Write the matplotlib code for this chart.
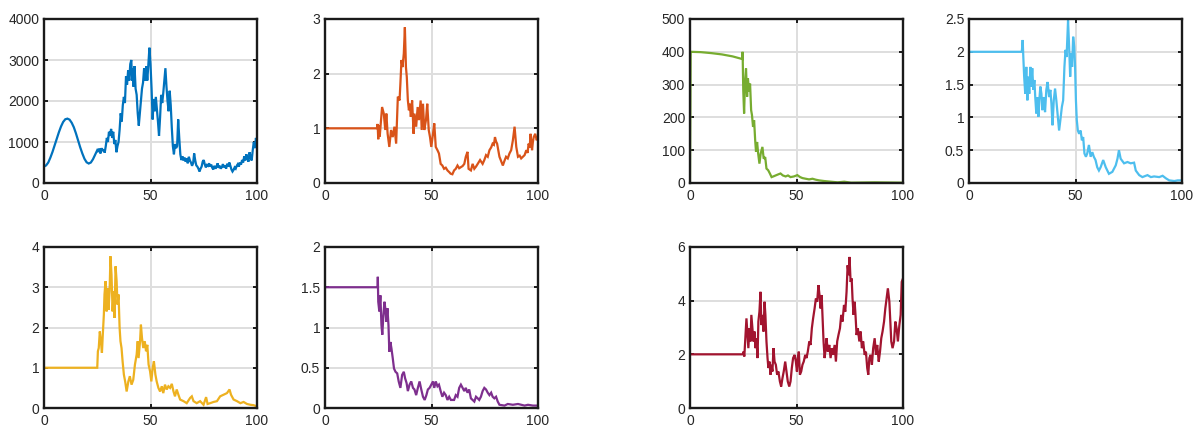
import matplotlib
matplotlib.use("Agg")
import matplotlib.pyplot as plt

# ---- series data -------------------------------------------------------
blue_x = [0, 1, 2, 3, 4, 5, 6, 7, 8, 9, 10, 11, 12, 13, 14, 15, 16, 17, 18, 19, 20, 21, 22, 23, 24, 25,
          25.5, 26, 26.5, 27, 27.5, 28, 28.5, 29, 29.5, 30, 30.5, 31, 31.5, 32, 32.5, 33, 33.5, 34, 34.5, 35,
          35.5, 36, 36.5, 37, 37.5, 38, 38.5, 39, 39.5, 40, 40.5, 41, 41.3, 41.7, 42, 42.5, 43, 43.5, 44, 44.5,
          45, 45.5, 46, 46.5, 47, 47.5, 48, 48.5, 49, 49.5, 50, 50.5, 51, 51.5, 52, 52.5, 53, 53.5, 54, 54.5,
          55, 55.5, 56, 56.5, 57, 57.5, 58, 58.5, 59, 59.5, 60, 60.5, 61, 61.5, 62, 62.5, 63, 63.5, 64, 64.5,
          65, 65.5, 66, 66.5, 67, 67.5, 68, 68.5, 69, 69.5, 70, 70.5, 71, 71.5, 72, 72.5, 73, 73.5, 74, 74.5,
          75, 75.5, 76, 76.5, 77, 77.5, 78, 78.5, 79, 79.5, 80, 80.5, 81, 81.5, 82, 82.5, 83, 83.5, 84, 84.5,
          85, 85.5, 86, 86.5, 87, 87.5, 88, 88.5, 89, 89.5, 90, 90.5, 91, 91.5, 92, 92.5, 93, 93.5, 94, 94.5,
          95, 95.5, 96, 96.5, 97, 97.5, 98, 98.5, 99, 99.5, 100]
blue_y = [400, 430, 500, 620, 760, 920, 1080, 1240, 1380, 1490, 1555, 1570, 1545, 1470, 1360, 1210, 1040, 870,
          720, 590, 505, 475, 500, 580, 690, 800,
          760, 840, 720, 850, 780, 820, 740, 900, 1100, 1000, 1250, 1150, 1320, 1100, 1250, 950, 1050, 750, 900, 1000,
          1300, 1700, 1500, 1900, 2100, 1950, 2600, 2400, 2750, 2500, 2900, 3000, 2500, 2800, 2350, 2850, 2300, 2150,
          1700, 1400,
          1700, 2000, 2300, 2450, 2800, 2500, 2850, 2500, 2900, 3300, 2900, 2300, 1550, 2050, 1750, 2100, 1800, 1500,
          1150, 1600,
          2150, 1950, 2200, 2500, 2800, 2350, 2000, 1750, 2250, 1900, 1350, 900, 700, 950, 850, 900, 1550, 1100, 700,
          560,
          650, 550, 620, 520, 600, 480, 640, 550, 500, 420, 480, 720, 550, 430, 400, 350, 280, 350, 400, 520,
          560, 450, 380, 440, 420, 480, 400, 450, 370, 330, 420, 350, 400, 480, 370, 420, 350, 390, 460, 380,
          420, 350, 470, 400, 500, 420, 330, 280, 320, 380, 350, 420, 460, 400, 500, 450, 560, 500, 650, 550,
          700, 600, 520, 750, 620, 550, 800, 1000, 850, 1100, 950]

orange_x = [0, 24.4, 24.7, 25.0, 25.3, 25.7, 26.2, 26.8, 27.6, 28.3, 28.8, 29.4, 30.2, 31.0, 31.8, 32.6, 33.4,
            34.2, 35.0, 35.4, 35.9, 36.4, 37.0, 37.5, 38.0, 38.4, 38.9, 39.4, 39.8, 40.3, 40.9, 41.6, 42.0, 42.8,
            43.5, 44.1, 44.9, 45.4, 46.0, 46.6, 47.4, 48.0, 48.7, 49.3, 49.9, 50.7, 51.3, 52.0, 52.8, 53.5, 54.3,
            55.1, 55.9, 56.7, 57.5, 58.3, 59.0, 59.8, 60.6, 61.4, 62.2, 63.0, 63.8, 64.6, 65.4, 66.1, 66.9, 67.4,
            68.5, 69.3, 70.1, 70.9, 71.7, 72.8, 74.0, 74.8, 75.6, 76.4, 77.2, 78.0, 78.7, 79.3, 79.8, 80.3, 80.8,
            81.9, 82.7, 83.5, 84.2, 85.0, 85.8, 86.6, 87.4, 88.2, 89.0, 89.8, 90.6, 91.4, 92.1, 92.9, 93.7, 94.5,
            95.1, 95.6, 96.1, 96.5, 97.2, 97.6, 98.0, 98.7, 99.4, 100]
orange_y = [1.0, 1.0, 1.08, 0.8, 1.05, 0.85, 1.1, 1.39, 1.27, 0.97, 1.27, 0.9, 0.66, 0.97, 0.84, 1.03, 0.72,
            1.58, 1.51, 1.82, 2.25, 2.12, 2.37, 2.85, 2.12, 1.94, 1.51, 1.33, 1.45, 1.21, 1.51, 0.9, 1.27, 1.03,
            1.39, 1.15, 1.51, 0.97, 1.45, 0.97, 1.15, 1.45, 0.97, 0.84, 0.66, 0.9, 1.09, 0.66, 0.6, 0.54, 0.35,
            0.32, 0.26, 0.28, 0.23, 0.2, 0.17, 0.16, 0.23, 0.26, 0.32, 0.27, 0.29, 0.31, 0.35, 0.48, 0.57, 0.26,
            0.23, 0.35, 0.26, 0.3, 0.35, 0.42, 0.35, 0.42, 0.51, 0.48, 0.6, 0.65, 0.72, 0.7, 0.84, 0.76, 0.72,
            0.48, 0.4, 0.32, 0.4, 0.48, 0.45, 0.54, 0.6, 0.78, 1.03, 0.66, 0.48, 0.5, 0.45, 0.48, 0.51, 0.6,
            0.55, 0.72, 0.65, 0.9, 0.6, 0.75, 0.84, 0.9, 0.78, 0.84]

yellow_x = [0, 25.0, 25.3, 25.7, 26.2, 26.7, 27.2, 27.6, 28.1, 28.4, 28.9, 29.4, 29.8, 30.3, 30.8, 31.2, 31.7,
            32.2, 32.7, 33.1, 33.6, 34.1, 34.5, 35.0, 35.5, 35.9, 36.4, 36.9, 37.5, 38.1, 38.8, 39.6, 40.3, 41.1,
            41.9, 42.7, 43.5, 44.0, 44.4, 45.1, 45.5, 46.0, 46.6, 47.3, 47.9, 48.5, 49.1, 49.8, 50.4, 51.0, 51.6,
            52.3, 52.9, 53.7, 54.5, 55.3, 56.0, 56.8, 57.6, 58.4, 59.2, 60.0, 60.8, 61.5, 62.3, 63.1, 63.9, 65.5,
            67.0, 68.6, 69.4, 70.2, 71.7, 73.3, 74.9, 76.1, 76.8, 78.0, 79.6, 81.2, 82.7, 84.3, 85.9, 87.1, 87.8,
            89.0, 90.6, 92.2, 93.7, 95.3, 96.9, 98.4, 100]
yellow_y = [1.0, 1.0, 1.41, 1.49, 1.9, 1.66, 1.37, 1.82, 2.32, 2.82, 3.15, 2.4, 2.98, 2.44, 2.9, 3.77, 3.31,
            2.4, 2.9, 2.24, 3.52, 3.15, 2.57, 2.82, 1.99, 1.66, 1.49, 1.16, 0.83, 0.66, 0.41, 0.66, 0.79, 0.58,
            0.7, 1.08, 1.33, 1.66, 1.24, 1.66, 2.07, 1.74, 1.49, 1.66, 1.41, 1.57, 1.08, 0.91, 0.66, 0.99, 1.16,
            0.83, 0.66, 0.5, 0.41, 0.54, 0.37, 0.58, 0.46, 0.54, 0.5, 0.6, 0.41, 0.29, 0.46, 0.33, 0.21, 0.17,
            0.12, 0.25, 0.29, 0.17, 0.12, 0.17, 0.08, 0.27, 0.1, 0.12, 0.15, 0.17, 0.29, 0.33, 0.37, 0.46, 0.33,
            0.21, 0.17, 0.12, 0.15, 0.1, 0.08, 0.07, 0.04]

purple_x = [0, 24.7, 24.8, 25.0, 25.5, 26.0, 26.5, 26.9, 27.4, 27.9, 28.3, 28.8, 29.3, 29.8, 30.2, 30.7, 31.2,
            31.8, 32.4, 33.1, 33.9, 34.6, 35.4, 36.2, 37.0, 37.6, 38.3, 38.9, 39.7, 40.5, 41.3, 42.0, 42.8, 43.6,
            44.4, 45.2, 46.0, 46.8, 47.6, 48.3, 49.1, 49.9, 50.7, 51.3, 52.0, 52.8, 53.5, 54.3, 55.1, 55.9, 56.7,
            57.5, 58.3, 59.1, 60.6, 61.4, 62.2, 63.0, 63.8, 64.6, 65.4, 66.1, 66.9, 67.7, 68.5, 69.3, 70.1, 70.9,
            71.7, 72.4, 73.2, 74.0, 74.8, 75.6, 76.4, 77.2, 78.0, 78.7, 79.5, 80.3, 81.1, 81.9, 84.3, 85.8, 88.2,
            90.6, 93.7, 95.3, 97.6, 100]
purple_y = [1.5, 1.5, 1.63, 1.32, 1.2, 1.4, 1.03, 0.91, 1.15, 1.32, 1.24, 1.07, 1.24, 1.03, 0.7, 0.82, 0.74,
            0.62, 0.49, 0.45, 0.43, 0.33, 0.25, 0.41, 0.45, 0.37, 0.31, 0.21, 0.29, 0.33, 0.25, 0.23, 0.16, 0.25,
            0.33, 0.23, 0.14, 0.1, 0.16, 0.23, 0.25, 0.29, 0.33, 0.25, 0.33, 0.27, 0.29, 0.21, 0.14, 0.19, 0.16,
            0.1, 0.14, 0.1, 0.1, 0.16, 0.14, 0.25, 0.29, 0.25, 0.21, 0.25, 0.19, 0.23, 0.12, 0.1, 0.08, 0.14,
            0.12, 0.1, 0.14, 0.21, 0.25, 0.23, 0.19, 0.16, 0.19, 0.14, 0.12, 0.14, 0.08, 0.04, 0.03, 0.05, 0.04,
            0.05, 0.03, 0.04, 0.03, 0.03]

green_x = [0, 0.3, 5, 10, 15, 20, 24.5, 24.7, 25.0, 25.4, 25.8, 26.3, 26.8, 27.2, 27.7, 28.2, 28.7, 29.1, 29.6,
           30.1, 30.6, 31.0, 31.5, 32.0, 32.6, 33.2, 34.0, 34.6, 35.3, 35.9, 36.7, 37.5, 38.3, 39.1, 40.2, 41.3,
           42.5, 43.6, 44.9, 46.0, 47.2, 48.8, 50.4, 51.7, 52.8, 54.3, 55.9, 57.5, 59.1, 60.6, 63.0, 66.1, 69.3,
           72.4, 75.6, 86.6, 100]
green_y = [0, 400, 399, 396, 392, 386, 378, 400, 283, 212, 303, 349, 263, 319, 278, 303, 222, 207, 171,
           191, 130, 95, 125, 90, 59, 90, 110, 74, 79, 44, 39, 29, 18, 20, 23, 26,
           29, 23, 20, 23, 18, 20, 24, 18, 15, 13, 11, 13, 10, 8, 6, 4, 2,
           4, 1, 2, 1]

cyan_x = [0, 24.8, 25.2, 25.5, 25.9, 26.4, 26.9, 27.4, 27.8, 28.3, 28.8, 29.2, 29.7, 30.2, 30.7, 31.1, 31.6,
          32.1, 32.6, 33.0, 33.5, 34.0, 34.4, 35.1, 35.7, 36.3, 36.9, 37.6, 38.2, 38.7, 39.2, 39.8, 40.4, 41.0,
          41.7, 42.3, 42.9, 43.6, 44.2, 44.8, 45.3, 45.8, 46.2, 46.5, 47.0, 47.5, 48.0, 48.4, 48.9, 49.4, 49.8,
          50.2, 50.6, 51.1, 51.7, 52.4, 53.0, 53.6, 54.2, 54.9, 55.5, 56.3, 57.1, 57.9, 58.6, 59.4, 60.2, 61.0,
          61.8, 63.0, 64.2, 65.7, 67.3, 68.9, 69.7, 70.4, 71.2, 72.8, 74.4, 75.9, 77.5, 78.3, 79.9, 81.4, 83.8,
          85.4, 86.9, 89.3, 90.9, 92.5, 94.0, 96.4, 98.0, 100]
cyan_y = [2.0, 2.0, 2.18, 1.92, 1.62, 1.36, 1.77, 1.26, 1.62, 1.36, 1.77, 1.47, 1.75, 1.42, 1.57, 1.31, 1.06,
          1.31, 1.01, 1.26, 1.47, 1.36, 1.11, 1.31, 1.08, 1.42, 1.54, 1.31, 1.42, 1.21, 0.88, 1.26, 1.44, 1.26,
          1.01, 0.8, 0.96, 1.16, 1.26, 1.77, 2.03, 1.92, 2.23, 2.48, 2.08, 1.62, 1.98, 1.77, 2.23, 2.08, 1.77,
          1.26, 0.96, 0.8, 0.75, 0.8, 0.65, 0.7, 0.45, 0.4, 0.45, 0.58, 0.4, 0.47, 0.4, 0.35, 0.24, 0.19,
          0.24, 0.35, 0.24, 0.14, 0.17, 0.27, 0.37, 0.5, 0.37, 0.3, 0.32, 0.3, 0.31, 0.19, 0.12, 0.09, 0.12,
          0.09, 0.1, 0.09, 0.11, 0.07, 0.04, 0.03, 0.04, 0.04]

red_x = [0, 24.8, 25.1, 25.5, 26.0, 26.5, 27.0, 27.4, 27.9, 28.4, 28.8, 29.3, 29.8, 30.3, 30.7, 31.2, 31.7,
         32.1, 32.6, 33.1, 33.5, 34.0, 34.5, 35.0, 35.4, 35.9, 36.4, 36.8, 37.3, 37.8, 38.2, 38.7, 39.2, 39.7,
         40.3, 40.9, 41.5, 42.2, 42.8, 43.4, 44.0, 44.7, 45.3, 45.9, 46.6, 47.2, 47.8, 48.4, 49.1, 49.7, 50.2,
         50.6, 51.1, 51.6, 52.2, 52.8, 53.4, 54.1, 54.7, 55.3, 56.0, 56.6, 57.2, 57.8, 58.5, 59.1, 59.7, 60.3,
         60.8, 61.3, 61.8, 62.2, 62.7, 63.2, 63.7, 64.1, 64.7, 65.4, 66.0, 66.6, 67.2, 67.9, 68.5, 69.1, 69.7,
         70.4, 71.0, 71.6, 72.3, 72.9, 73.5, 74.0, 74.5, 74.9, 75.4, 75.9, 76.3, 76.8, 77.3, 77.7, 78.2, 78.8,
         79.5, 80.1, 80.7, 81.3, 82.0, 82.6, 83.2, 83.7, 84.2, 84.8, 85.4, 86.0, 86.7, 87.3, 87.9, 88.6, 89.2,
         89.8, 90.4, 91.1, 91.7, 92.3, 92.9, 93.6, 94.1, 94.5, 95.1, 95.8, 96.4, 97.0, 97.6, 98.3, 98.9, 99.4,
         100]
red_y = [2.0, 2.0, 2.1, 1.92, 2.6, 3.34, 2.72, 2.23, 2.97, 2.48, 3.47, 2.97, 2.48, 2.85, 2.23, 2.6, 1.86,
         3.22, 3.59, 4.33, 3.09, 3.47, 2.85, 3.96, 3.47, 2.48, 1.86, 1.49, 1.73, 1.24, 1.61, 1.36, 2.23, 1.73,
         1.61, 1.24, 1.36, 0.99, 0.8, 1.11, 1.36, 1.73, 1.36, 0.99, 0.8, 0.99, 1.49, 1.86, 1.98, 1.73, 1.36,
         1.86, 2.1, 1.24, 1.36, 1.61, 1.73, 1.98, 1.86, 2.1, 2.48, 2.35, 2.97, 3.34, 3.71, 4.08, 3.96, 4.58,
         4.21, 3.71, 4.21, 3.47, 2.48, 1.86, 2.23, 2.6, 2.1, 2.35, 1.86, 2.23, 1.98, 2.35, 1.73, 2.48, 2.72,
         2.97, 3.47, 3.22, 3.84, 3.59, 4.33, 5.32, 4.95, 5.63, 4.7, 4.83, 4.08, 3.47, 3.96, 3.47, 2.72, 2.97,
         2.48, 2.85, 2.23, 2.48, 1.98, 2.1, 1.49, 1.24, 1.86, 1.98, 1.61, 2.23, 2.6, 1.98, 2.35, 1.73, 2.1,
         2.6, 2.85, 3.22, 3.71, 4.08, 4.46, 3.96, 3.09, 2.48, 2.23, 2.48, 3.22, 2.97, 2.48, 3.09, 3.47, 4.7,
         4.83]

x_ticks = [0, 50, 100]

# ---- figure -------------------------------------------------------------
W, H = 1199, 430
fig = plt.figure(figsize=(W / 100, H / 100), dpi=100)
plt.rcParams['font.family'] = ['Liberation Sans', 'DejaVu Sans']

panels = [
    # (left px, top px, bottom px, x, y, colour, y-limit, y-ticks, y-tick labels)
    (44, 19, 183, blue_x, blue_y, '#0072BD', 4000, [0, 1000, 2000, 3000, 4000], None),
    (325, 19, 183, orange_x, orange_y, '#D95319', 3, [0, 1, 2, 3], None),
    (44, 247, 408, yellow_x, yellow_y, '#EDB120', 4, [0, 1, 2, 3, 4], None),
    (325, 247, 408, purple_x, purple_y, '#7E2F8E', 2, [0, 0.5, 1, 1.5, 2], ['0', '0.5', '1', '1.5', '2']),
    (690, 19, 183, green_x, green_y, '#77AC30', 500, [0, 100, 200, 300, 400, 500], None),
    (969, 19, 183, cyan_x, cyan_y, '#4DBEEE', 2.5, [0, 0.5, 1, 1.5, 2, 2.5], ['0', '0.5', '1', '1.5', '2', '2.5']),
    (690, 247, 408, red_x, red_y, '#A2142F', 6, [0, 2, 4, 6], None),
]

ax_w = 213
for left, top, bottom, xs, ys, col, ymax, yt, ytl in panels:
    ax = fig.add_axes([left / W, (H - bottom) / H, ax_w / W, (bottom - top) / H])
    ax.plot(xs, ys, color=col, lw=1.6, solid_joinstyle='miter', zorder=3)
    ax.set_xlim(0, 100)
    ax.set_ylim(0, ymax)
    ax.set_xticks(x_ticks)
    ax.set_yticks(yt)
    if ytl is not None:
        ax.set_yticklabels(ytl)
    ax.grid(True, color='#dedede', lw=1.4, zorder=0)
    ax.set_axisbelow(True)
    for s in ax.spines.values():
        s.set_linewidth(1.7)
        s.set_color('#1a1a1a')
        s.set_zorder(4)
    ax.tick_params(direction='in', length=3, width=1.4, top=True, right=True,
                   labelsize=10, labelcolor='#262626', color='#1a1a1a')
    ax.tick_params(axis='x', pad=4.5)
    ax.tick_params(axis='y', pad=3.5)

fig.savefig('out.png', dpi=100)
